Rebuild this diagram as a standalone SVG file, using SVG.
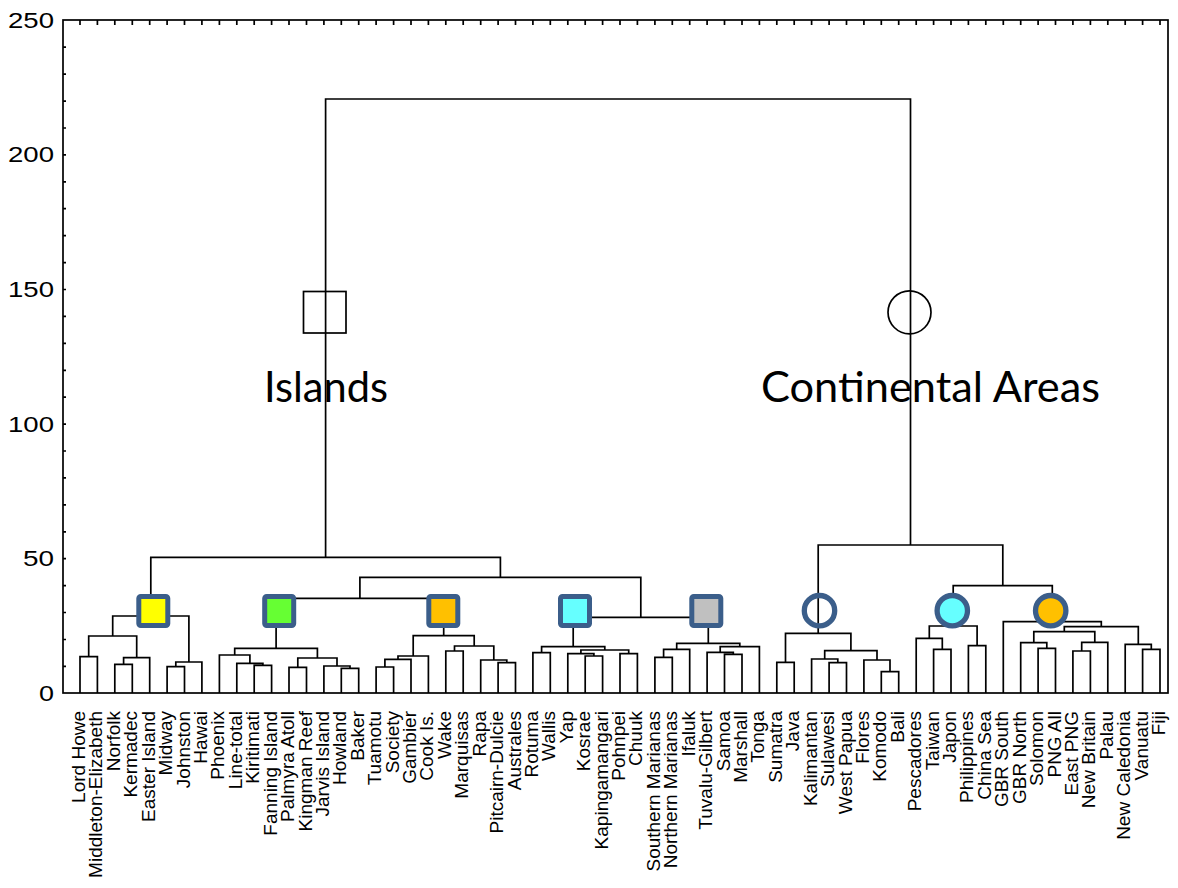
<svg xmlns="http://www.w3.org/2000/svg" width="1178" height="888" viewBox="0 0 1178 888">
<style>
.ln{fill:none;stroke:#000;stroke-width:1.7;stroke-linejoin:miter}
.ax{fill:none;stroke:#000;stroke-width:1.7}
.yl{font-family:"Liberation Sans",Arial,sans-serif;font-size:22px;fill:#000;text-anchor:end}
.lf{font-family:"Liberation Sans",Arial,sans-serif;font-size:19px;fill:#000;text-anchor:end}
.big{font-family:Lato,"Open Sans",sans-serif;font-size:42px;fill:#000}
.sq{stroke:#3B5E8A;stroke-width:5}
.ci{stroke:#3B5E8A;stroke-width:5.3}
</style>
<rect x="0" y="0" width="1178" height="888" fill="#fff"/>
<g id="axes">
<rect class="ax" x="63" y="20" width="1105" height="673"/>
<path class="ax" d="M63 666.4h3M63 639.5h3M63 612.5h3M63 585.6h3M63 558.7h3M63 531.8h3M63 504.9h3M63 477.9h3M63 451h3M63 424.1h3M63 397.2h3M63 370.3h3M63 343.3h3M63 316.4h3M63 289.5h3M63 262.6h3M63 235.7h3M63 208.7h3M63 181.8h3M63 154.9h3M63 128h3M63 101.1h3M63 74.1h3M63 47.2h3"/>
<path class="ax" d="M80 20v5M97.4 20v5M114.8 20v5M132.3 20v5M149.7 20v5M167.1 20v5M184.5 20v5M201.9 20v5M219.4 20v5M236.8 20v5M254.2 20v5M271.6 20v5M289 20v5M306.5 20v5M323.9 20v5M341.3 20v5M358.7 20v5M376.1 20v5M393.6 20v5M411 20v5M428.4 20v5M445.8 20v5M463.2 20v5M480.7 20v5M498.1 20v5M515.5 20v5M532.9 20v5M550.3 20v5M567.8 20v5M585.2 20v5M602.6 20v5M620 20v5M637.4 20v5M654.9 20v5M672.3 20v5M689.7 20v5M707.1 20v5M724.5 20v5M742 20v5M759.4 20v5M776.8 20v5M794.2 20v5M811.6 20v5M829.1 20v5M846.5 20v5M863.9 20v5M881.3 20v5M898.7 20v5M916.2 20v5M933.6 20v5M951 20v5M968.4 20v5M985.8 20v5M1003.3 20v5M1020.7 20v5M1038.1 20v5M1055.5 20v5M1072.9 20v5M1090.4 20v5M1107.8 20v5M1125.2 20v5M1142.6 20v5M1160 20v5"/>
<text class="yl" x="54" y="27.5" textLength="46" lengthAdjust="spacingAndGlyphs">250</text>
<text class="yl" x="54" y="162" textLength="46" lengthAdjust="spacingAndGlyphs">200</text>
<text class="yl" x="54" y="297" textLength="46" lengthAdjust="spacingAndGlyphs">150</text>
<text class="yl" x="54" y="431.5" textLength="46" lengthAdjust="spacingAndGlyphs">100</text>
<text class="yl" x="54" y="566" textLength="31" lengthAdjust="spacingAndGlyphs">50</text>
<text class="yl" x="54" y="700.5" textLength="15" lengthAdjust="spacingAndGlyphs">0</text>
</g>
<g id="labels">
<text id="group-islands" class="big" x="264" y="401.7" textLength="124" lengthAdjust="spacingAndGlyphs">Islands</text>
<text id="group-continental" class="big" x="761" y="401.7" textLength="339" lengthAdjust="spacingAndGlyphs">Continental Areas</text>
</g>
<g id="connectors">
<path class="ln" d="M80 693V656.7H97.4V693M114.8 693V664.3H132.3V693M123.6 664.3V657.7H149.7V693M88.7 656.7V636H136.7V657.7M167.1 693V666.7H184.5V693M175.8 666.7V662H201.9V693M112.7 636V616H188.9V662"/>
<path class="ln" d="M254.2 693V665.3H271.6V693M236.8 693V663.3H262.9V665.3M219.4 693V655H249.9V663.3M289 693V667.3H306.5V693M341.3 693V668.3H358.7V693M323.9 693V666H350V668.3M297.8 667.3V658H337V666M234.7 655V648.3H317.4V658"/>
<path class="ln" d="M376.1 693V667H393.6V693M384.9 667V659.3H411V693M398 659.3V656H428.4V693M445.8 693V651H463.2V693M498.1 693V662.7H515.5V693M480.7 693V660H506.8V662.7M454.5 651V646H493.8V660M413.2 656V635.7H474.2V646"/>
<path class="ln" d="M276.1 648.3V598.3H443.7V635.7"/>
<path class="ln" d="M532.9 693V652.7H550.3V693M585.2 693V656H602.6V693M567.8 693V653.7H593.9V656M620 693V653.7H637.4V693M580.9 653.7V650H628.7V653.7M541.6 652.7V646.7H604.8V650"/>
<path class="ln" d="M654.9 693V657.3H672.3V693M663.6 657.3V649.3H689.7V693M724.5 693V654.3H742V693M707.1 693V652.3H733.3V654.3M720.2 652.3V646.7H759.4V693M676.7 649.3V643.3H739.8V646.7"/>
<path class="ln" d="M573.2 646.7V617.3H708.3V643.3M359.9 598.3V577.3H640.8V617.3M150.8 616V557.3H500.4V577.3"/>
<path class="ln" d="M776.8 693V662.3H794.2V693M829.1 693V662.7H846.5V693M811.6 693V659H837.8V662.7M881.3 693V671.7H898.7V693M863.9 693V660H890V671.7M824.7 659V650.7H877V660M785.5 662.3V633.3H850.9V650.7"/>
<path class="ln" d="M933.6 693V649.3H951V693M916.2 693V638.3H942.3V649.3M968.4 693V645.7H985.8V693M929.3 638.3V626H977.1V645.7"/>
<path class="ln" d="M1038.1 693V648.3H1055.5V693M1020.7 693V642.7H1046.8V648.3M1072.9 693V651H1090.4V693M1081.7 651V642.3H1107.8V693M1033.8 642.7V631.7H1094.8V642.3M1142.6 693V649.3H1160V693M1125.2 693V644.3H1151.3V649.3M1064.3 631.7V626.7H1138.3V644.3M1003.3 693V621.7H1101.3V626.7M953.2 626V585.7H1052.3V621.7M818.2 633.3V545H1002.8V585.7"/>
<path class="ln" d="M325.6 557.3V99H910.5V545"/>
</g>
<g id="node-islands"><rect class="ln" x="303.5" y="291.5" width="42.5" height="41.5"/></g>
<g id="node-continental"><circle class="ln" cx="909.5" cy="312.3" r="21.5"/></g>
<g id="node-yellow"><rect class="sq" x="138.8" y="596.5" width="29" height="29" rx="2" fill="#FFFF00"/></g>
<g id="node-green"><rect class="sq" x="264.7" y="596.5" width="29" height="29" rx="2" fill="#66FF33"/></g>
<g id="node-orange"><rect class="sq" x="428.8" y="596.5" width="29" height="29" rx="2" fill="#FFC000"/></g>
<g id="node-cyan"><rect class="sq" x="560.5" y="596.5" width="29" height="29" rx="2" fill="#66FFFF"/></g>
<g id="node-gray"><rect class="sq" x="691.8" y="596.5" width="29" height="29" rx="2" fill="#C0C0C0"/></g>
<g id="node-open"><circle class="ci" cx="819.5" cy="610.7" r="15.2" fill="none"/></g>
<g id="node-cyan-circle"><circle class="ci" cx="952.3" cy="610.7" r="15.2" fill="#66FFFF"/></g>
<g id="node-orange-circle"><circle class="ci" cx="1050.7" cy="610.7" r="15.2" fill="#FFC000"/></g>
<g id="leaf-labels">
<text class="lf" transform="translate(85,711) rotate(-90)">Lord Howe</text>
<text class="lf" transform="translate(102.4,711) rotate(-90)">Middleton-Elizabeth</text>
<text class="lf" transform="translate(119.8,711) rotate(-90)">Norfolk</text>
<text class="lf" transform="translate(137.3,711) rotate(-90)">Kermadec</text>
<text class="lf" transform="translate(154.7,711) rotate(-90)">Easter Island</text>
<text class="lf" transform="translate(172.1,711) rotate(-90)">Midway</text>
<text class="lf" transform="translate(189.5,711) rotate(-90)">Johnston</text>
<text class="lf" transform="translate(206.9,711) rotate(-90)">Hawai</text>
<text class="lf" transform="translate(224.4,711) rotate(-90)">Phoenix</text>
<text class="lf" transform="translate(241.8,711) rotate(-90)">Line-total</text>
<text class="lf" transform="translate(259.2,711) rotate(-90)">Kiritimati</text>
<text class="lf" transform="translate(276.6,711) rotate(-90)">Fanning Island</text>
<text class="lf" transform="translate(294,711) rotate(-90)">Palmyra Atoll</text>
<text class="lf" transform="translate(311.5,711) rotate(-90)">Kingman Reef</text>
<text class="lf" transform="translate(328.9,711) rotate(-90)">Jarvis Island</text>
<text class="lf" transform="translate(346.3,711) rotate(-90)">Howland</text>
<text class="lf" transform="translate(363.7,711) rotate(-90)">Baker</text>
<text class="lf" transform="translate(381.1,711) rotate(-90)">Tuamotu</text>
<text class="lf" transform="translate(398.6,711) rotate(-90)">Society</text>
<text class="lf" transform="translate(416,711) rotate(-90)">Gambier</text>
<text class="lf" transform="translate(433.4,711) rotate(-90)">Cook Is.</text>
<text class="lf" transform="translate(450.8,711) rotate(-90)">Wake</text>
<text class="lf" transform="translate(468.2,711) rotate(-90)">Marquisas</text>
<text class="lf" transform="translate(485.7,711) rotate(-90)">Rapa</text>
<text class="lf" transform="translate(503.1,711) rotate(-90)">Pitcairn-Dulcie</text>
<text class="lf" transform="translate(520.5,711) rotate(-90)">Australes</text>
<text class="lf" transform="translate(537.9,711) rotate(-90)">Rotuma</text>
<text class="lf" transform="translate(555.3,711) rotate(-90)">Wallis</text>
<text class="lf" transform="translate(572.8,711) rotate(-90)">Yap</text>
<text class="lf" transform="translate(590.2,711) rotate(-90)">Kosrae</text>
<text class="lf" transform="translate(607.6,711) rotate(-90)">Kapingamangari</text>
<text class="lf" transform="translate(625,711) rotate(-90)">Pohnpei</text>
<text class="lf" transform="translate(642.4,711) rotate(-90)">Chuuk</text>
<text class="lf" transform="translate(659.9,711) rotate(-90)">Southern Marianas</text>
<text class="lf" transform="translate(677.3,711) rotate(-90)">Northern Marianas</text>
<text class="lf" transform="translate(694.7,711) rotate(-90)">Ifaluk</text>
<text class="lf" transform="translate(712.1,711) rotate(-90)">Tuvalu-Gilbert</text>
<text class="lf" transform="translate(729.5,711) rotate(-90)">Samoa</text>
<text class="lf" transform="translate(747,711) rotate(-90)">Marshall</text>
<text class="lf" transform="translate(764.4,711) rotate(-90)">Tonga</text>
<text class="lf" transform="translate(781.8,711) rotate(-90)">Sumatra</text>
<text class="lf" transform="translate(799.2,711) rotate(-90)">Java</text>
<text class="lf" transform="translate(816.6,711) rotate(-90)">Kalimantan</text>
<text class="lf" transform="translate(834.1,711) rotate(-90)">Sulawesi</text>
<text class="lf" transform="translate(851.5,711) rotate(-90)">West Papua</text>
<text class="lf" transform="translate(868.9,711) rotate(-90)">Flores</text>
<text class="lf" transform="translate(886.3,711) rotate(-90)">Komodo</text>
<text class="lf" transform="translate(903.7,711) rotate(-90)">Bali</text>
<text class="lf" transform="translate(921.2,711) rotate(-90)">Pescadores</text>
<text class="lf" transform="translate(938.6,711) rotate(-90)">Taiwan</text>
<text class="lf" transform="translate(956,711) rotate(-90)">Japon</text>
<text class="lf" transform="translate(973.4,711) rotate(-90)">Philippines</text>
<text class="lf" transform="translate(990.8,711) rotate(-90)">China Sea</text>
<text class="lf" transform="translate(1008.3,711) rotate(-90)">GBR South</text>
<text class="lf" transform="translate(1025.7,711) rotate(-90)">GBR North</text>
<text class="lf" transform="translate(1043.1,711) rotate(-90)">Solomon</text>
<text class="lf" transform="translate(1060.5,711) rotate(-90)">PNG All</text>
<text class="lf" transform="translate(1077.9,711) rotate(-90)">East PNG</text>
<text class="lf" transform="translate(1095.4,711) rotate(-90)">New Britain</text>
<text class="lf" transform="translate(1112.8,711) rotate(-90)">Palau</text>
<text class="lf" transform="translate(1130.2,711) rotate(-90)">New Caledonia</text>
<text class="lf" transform="translate(1147.6,711) rotate(-90)">Vanuatu</text>
<text class="lf" transform="translate(1165,711) rotate(-90)">Fiji</text>
</g>
</svg>
